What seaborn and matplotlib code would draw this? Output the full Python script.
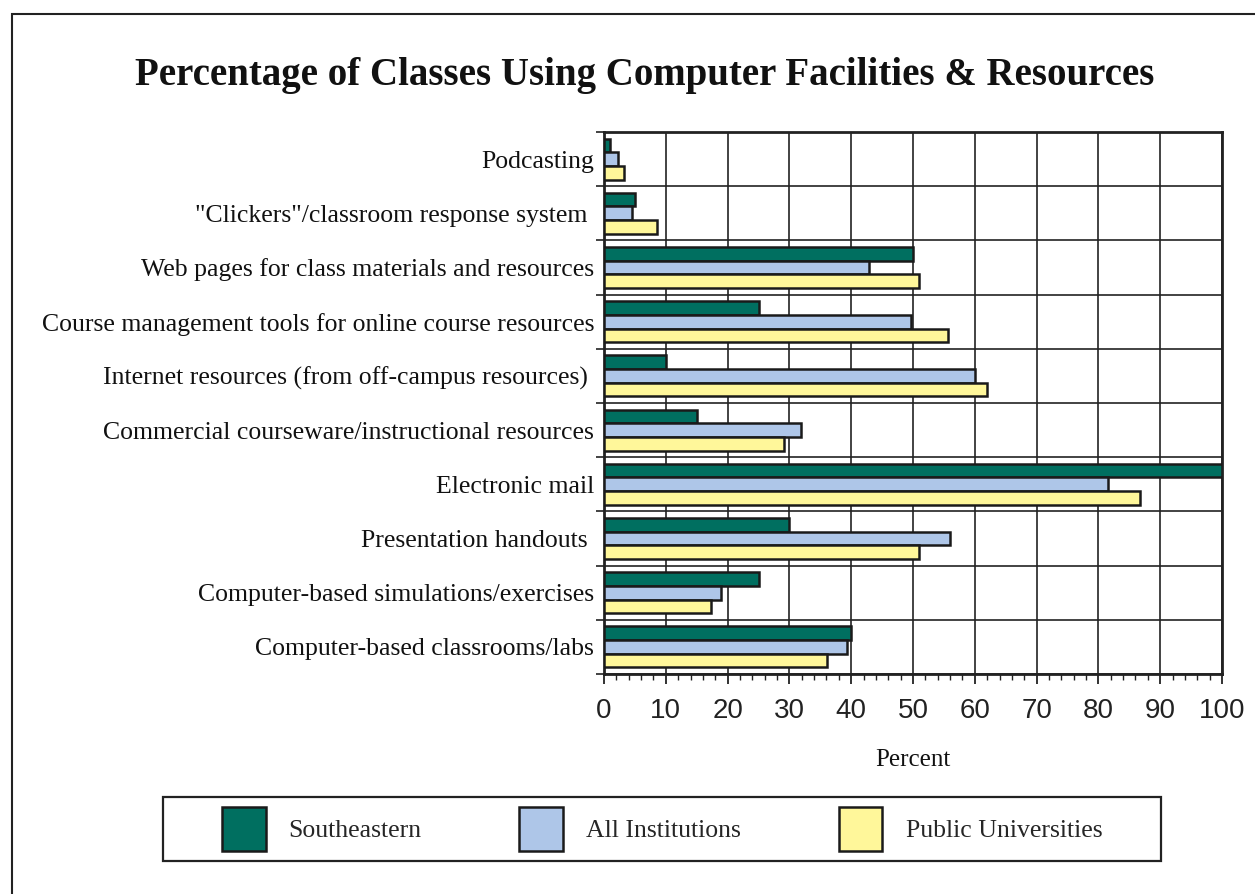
import numpy as np
import pandas as pd
import matplotlib
matplotlib.use("Agg")
import matplotlib.pyplot as plt
from matplotlib.patches import Patch, Rectangle
import seaborn as sns

categories = [
    "Podcasting",
    "\"Clickers\"/classroom response system ",
    "Web pages for class materials and resources",
    "Course management tools for online course resources",
    "Internet resources (from off-campus resources) ",
    "Commercial courseware/instructional resources",
    "Electronic mail",
    "Presentation handouts ",
    "Computer-based simulations/exercises",
    "Computer-based classrooms/labs",
]
series = ["Southeastern", "All Institutions", "Public Universities"]
southeastern = [1.0, 5.0, 50.0, 25.0, 10.0, 15.0, 100.0, 30.0, 25.0, 40.0]
all_institutions = [2.2, 4.5, 42.9, 49.7, 60.0, 31.9, 81.5, 56.0, 18.9, 39.4]
public_universities = [3.3, 8.5, 51.0, 55.7, 62.0, 29.2, 86.7, 50.9, 17.3, 36.1]
colors = ["#006f60", "#aec6e8", "#fff79a"]

rows = []
for name, vals in zip(series, [southeastern, all_institutions, public_universities]):
    for c, v in zip(categories, vals):
        rows.append({"Category": c, "Series": name, "Percent": v})
df = pd.DataFrame(rows)

sns.set_style("white")
plt.rcParams["font.family"] = ["Liberation Serif", "DejaVu Serif"]

W, H = 1255, 894
fig = plt.figure(figsize=(W / 100, H / 100), dpi=100)
# axes in pixel coords: left 604, right 1222, top 132, bottom 674
ax = fig.add_axes([604 / W, 1 - 674 / H, (1222 - 604) / W, (674 - 132) / H])

sns.barplot(data=df, x="Percent", y="Category", hue="Series", order=categories,
            hue_order=series, palette=colors, saturation=1, orient="h", width=0.76,
            edgecolor="#1a1a1a", linewidth=1.8, ax=ax, legend=False, zorder=3)

ax.set_xlim(0, 100)
ax.set_ylim(len(categories) - 0.5, -0.5)
ax.set_xticks(np.arange(0, 101, 10))
ax.set_xticks(np.arange(0, 101, 2), minor=True)
ax.set_yticks(np.arange(-0.5, len(categories), 1), minor=True)
ax.grid(True, which="major", axis="x", color="#222222", linewidth=1.2, zorder=0)
ax.grid(True, which="minor", axis="y", color="#222222", linewidth=1.2, zorder=0)
ax.grid(False, which="major", axis="y")
ax.set_axisbelow(True)
for s in ax.spines.values():
    s.set_visible(True)
    s.set_color("#222222")
    s.set_linewidth(2.0)

ax.tick_params(axis="x", which="major", direction="out", length=7, width=1.3,
               color="#222222", bottom=True, labelsize=20, pad=10)
ax.tick_params(axis="x", which="minor", direction="out", length=4, width=1.0,
               color="#222222", bottom=True)
ax.tick_params(axis="y", which="major", length=0, labelsize=18.5, pad=7)
ax.tick_params(axis="y", which="minor", direction="out", length=6, width=1.2,
               color="#222222", left=True)
for lab in ax.get_xticklabels():
    lab.set_fontfamily(["Liberation Sans", "DejaVu Sans"])
    lab.set_color("#222222")
for lab in ax.get_yticklabels():
    lab.set_color("#111111")

ax.set_ylabel("")
ax.set_xlabel("Percent", fontsize=18, labelpad=18, color="#111111")

fig.text(645 / W, 1 - 76 / H, "Percentage of Classes Using Computer Facilities & Resources",
         ha="center", va="center", fontsize=28, fontweight="bold", color="#111111")

# figure frame (top and left lines visible)
fig.patches.append(Rectangle((12 / W, -0.1), 1.2, 1.1 - 14 / H, transform=fig.transFigure,
                             fill=False, edgecolor="#222222", linewidth=1.5))
# legend frame
fig.patches.append(Rectangle((163 / W, 1 - 861 / H), (1161 - 163) / W, (861 - 797) / H,
                             transform=fig.transFigure, fill=False,
                             edgecolor="#222222", linewidth=1.6))

handles = [Patch(facecolor=c, edgecolor="#1a1a1a", linewidth=1.8) for c in colors]
leg = fig.legend(handles, series, loc="center",
                 bbox_to_anchor=(662 / W, 1 - 829 / H),
                 ncol=3, fontsize=18.5, frameon=False,
                 handlelength=1.7, handleheight=2.2, handletextpad=0.9,
                 columnspacing=3.8, borderpad=0.3)

fig.savefig("out.png", dpi=100)
